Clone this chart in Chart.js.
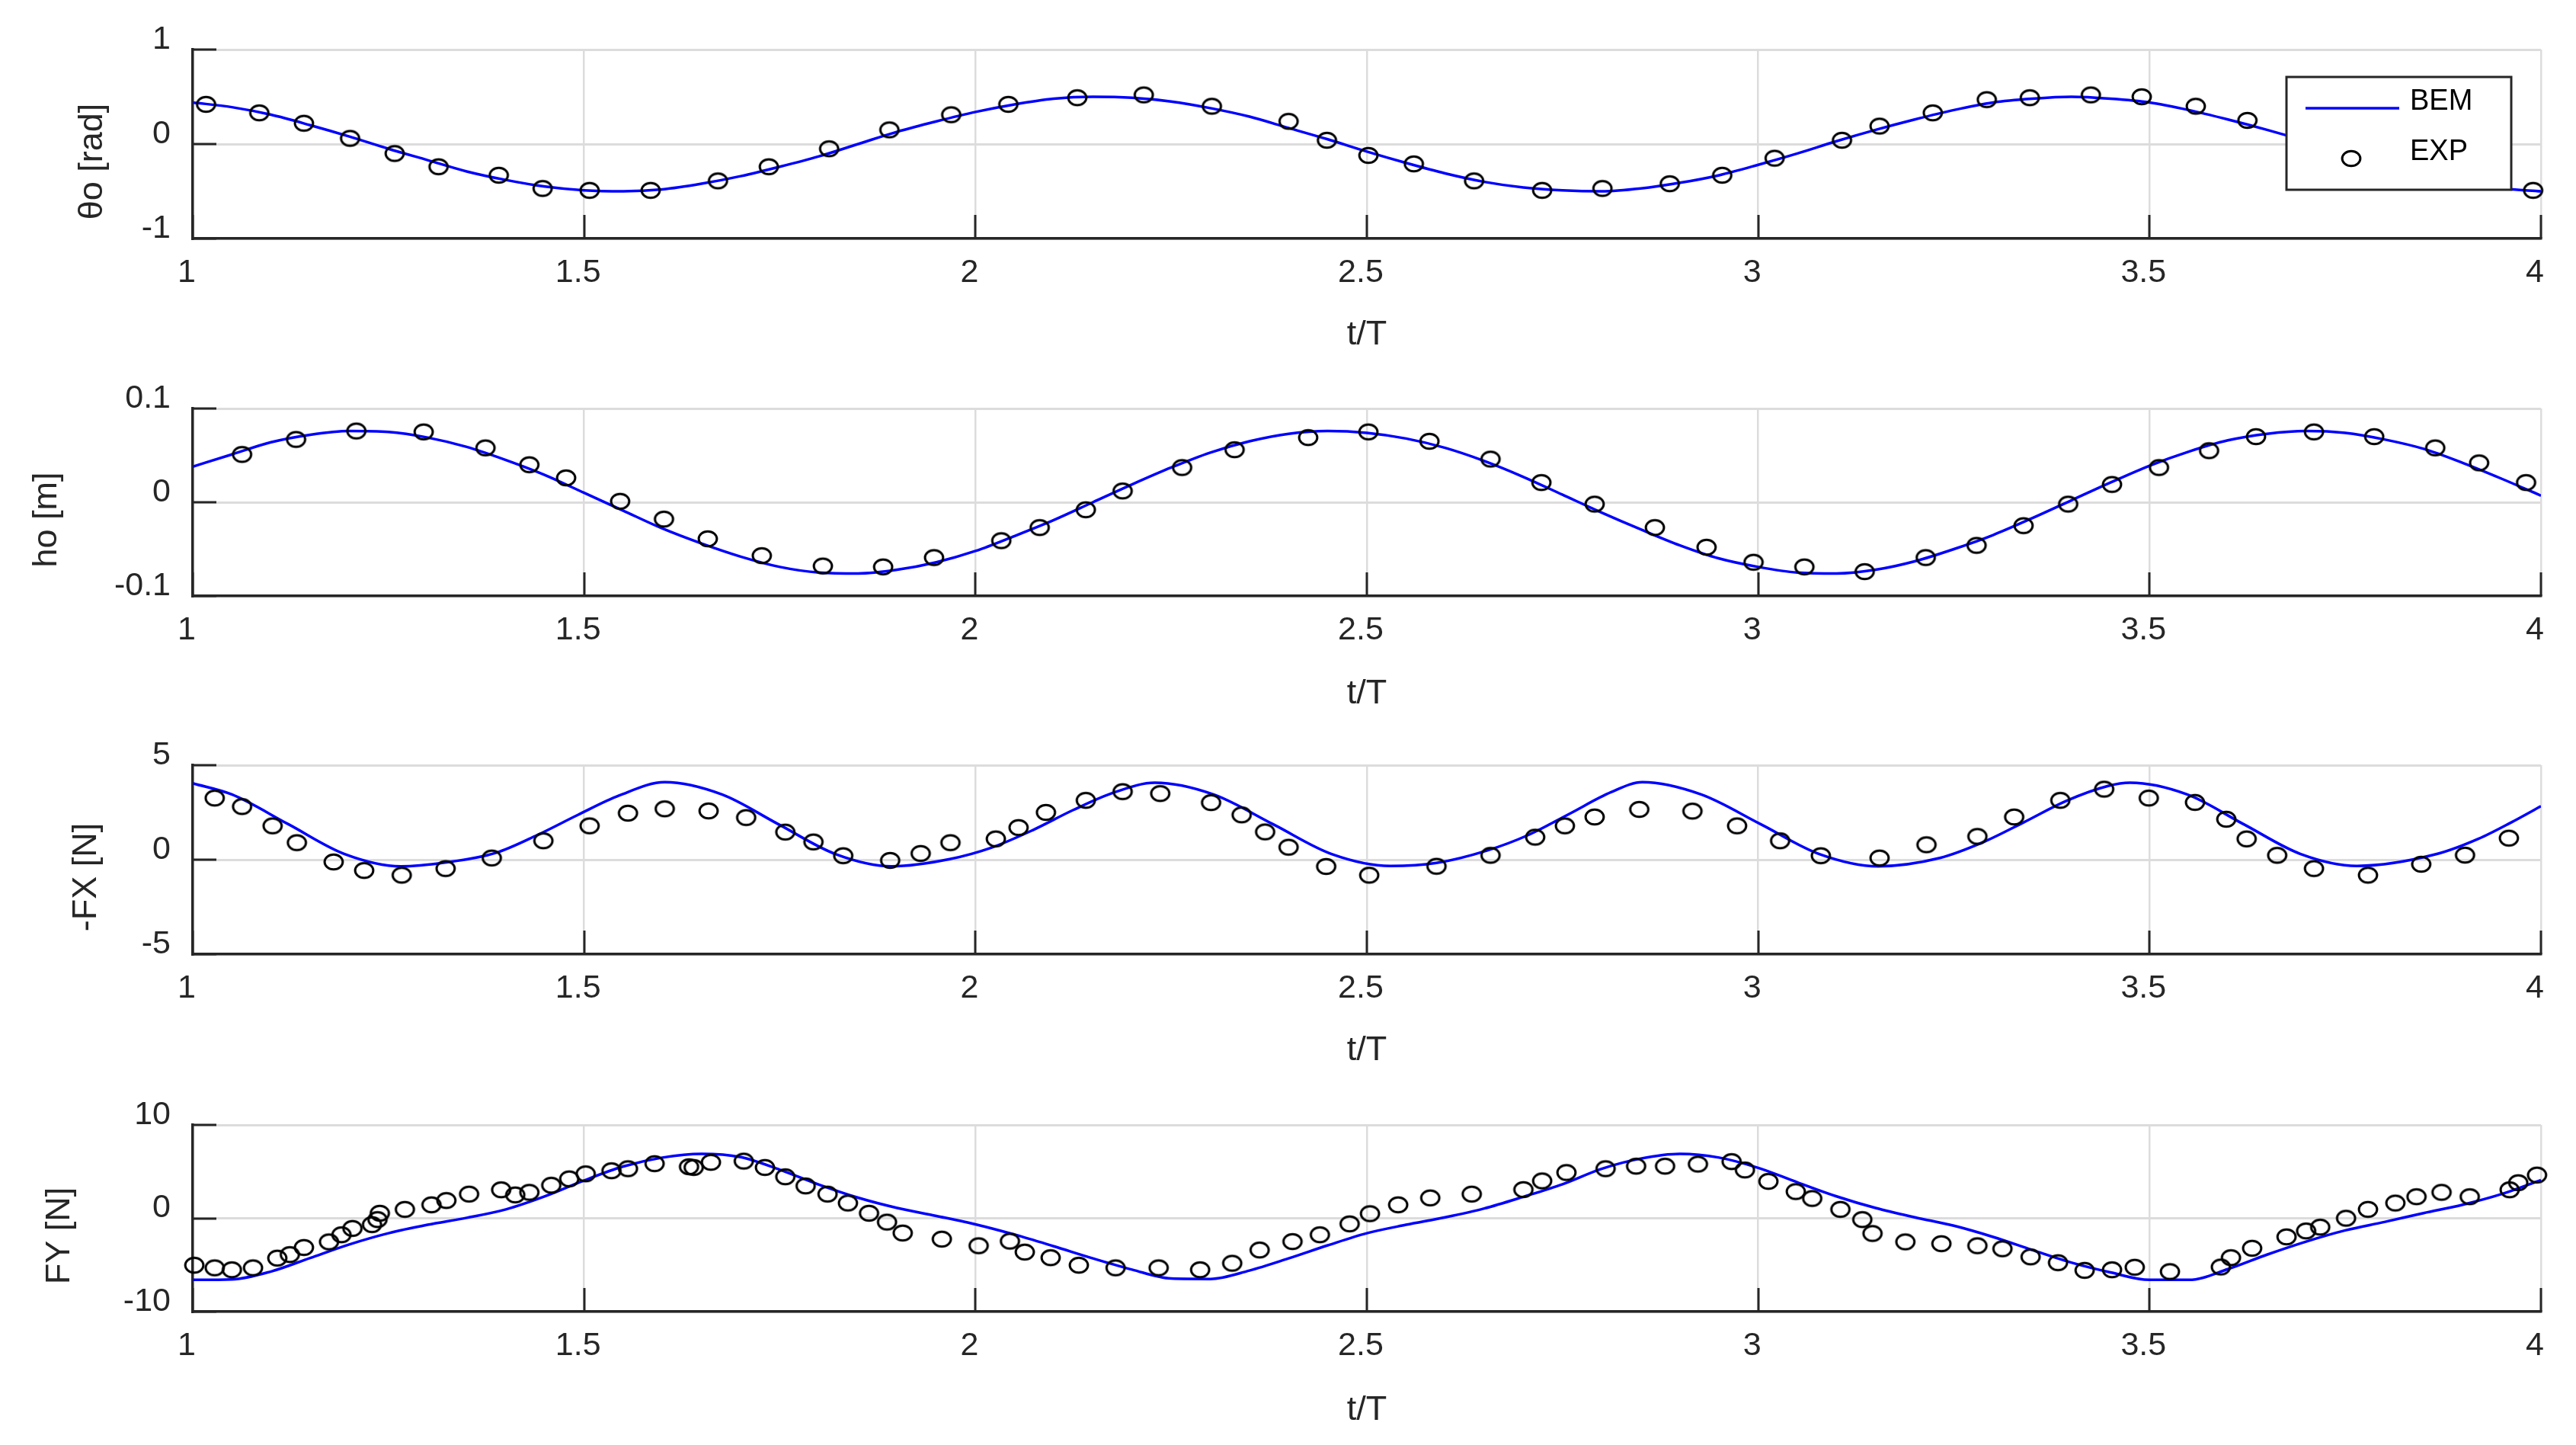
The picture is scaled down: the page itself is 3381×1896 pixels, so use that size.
<!DOCTYPE html>
<html>
<head>
<meta charset="utf-8">
<title>BEM vs EXP</title>
<script src="https://cdn.jsdelivr.net/npm/chart.js@4.4.1/dist/chart.umd.min.js"></script>
<style>
  html, body { margin: 0; padding: 0; background: #ffffff; }
  canvas { position: absolute; left: 0; }
</style>
</head>
<body>
<canvas id="thetaChart" width="3381" height="470" style="top:0px"></canvas>
<canvas id="hoChart" width="3381" height="470" style="top:471px"></canvas>
<canvas id="fxChart" width="3381" height="470" style="top:939px"></canvas>
<canvas id="fyChart" width="3381" height="470" style="top:1411px"></canvas>
<script>
// ---- data ----
const xTitle = 't/T';
const xTicks = [1, 1.5, 2, 2.5, 3, 3.5, 4];

// BEM curves sampled every 0.05 t/T
const bemT = [
  1.00, 1.05, 1.10, 1.15, 1.20, 1.25, 1.30, 1.35, 1.40, 1.45,
  1.50, 1.55, 1.60, 1.65, 1.70, 1.75, 1.80, 1.85, 1.90, 1.95,
  2.00, 2.05, 2.10, 2.15, 2.20, 2.25, 2.30, 2.35, 2.40, 2.45,
  2.50, 2.55, 2.60, 2.65, 2.70, 2.75, 2.80, 2.85, 2.90, 2.95,
  3.00, 3.05, 3.10, 3.15, 3.20, 3.25, 3.30, 3.35, 3.40, 3.45,
  3.50, 3.55, 3.60, 3.65, 3.70, 3.75, 3.80, 3.85, 3.90, 3.95,
  4.00
];
const thetaBem = [
  0.44, 0.39, 0.31, 0.20, 0.08, -0.05, -0.17, -0.29, -0.38, -0.45,
  -0.49, -0.50, -0.48, -0.42, -0.34, -0.24, -0.13, 0.00, 0.13, 0.24,
  0.34, 0.42, 0.48, 0.50, 0.49, 0.45, 0.38, 0.29, 0.17, 0.05,
  -0.08, -0.20, -0.31, -0.40, -0.46, -0.49, -0.50, -0.47, -0.41, -0.33,
  -0.22, -0.10, 0.03, 0.15, 0.26, 0.36, 0.44, 0.48, 0.50, 0.48,
  0.44, 0.36, 0.26, 0.15, 0.03, -0.10, -0.22, -0.33, -0.41, -0.47,
  -0.50
];
const hoBem = [
  0.038, 0.051, 0.064, 0.072, 0.076, 0.075, 0.069, 0.059, 0.045, 0.029,
  0.010, -0.009, -0.028, -0.044, -0.058, -0.069, -0.075, -0.076, -0.072, -0.064,
  -0.052, -0.036, -0.019, 0.000, 0.019, 0.037, 0.053, 0.065, 0.073, 0.076,
  0.074, 0.068, 0.058, 0.044, 0.027, 0.008, -0.011, -0.029, -0.046, -0.060,
  -0.069, -0.075, -0.076, -0.072, -0.063, -0.050, -0.035, -0.017, 0.002, 0.021,
  0.039, 0.054, 0.066, 0.073, 0.076, 0.074, 0.067, 0.057, 0.042, 0.025,
  0.007
];
const fyBem = [
  -6.6, -6.55, -5.7, -4.25, -2.8, -1.6, -0.7, 0.05, 0.95, 2.35,
  4.05, 5.55, 6.5, 6.9, 6.55, 5.2, 3.6, 2.2, 1.1, 0.25,
  -0.65, -1.75, -3.0, -4.3, -5.5, -6.45, -6.5, -5.6, -4.3, -2.9,
  -1.6, -0.7, 0.1, 1.05, 2.3, 3.65, 5.3, 6.4, 6.9, 6.5,
  5.4, 3.85, 2.35, 1.1, 0.1, -0.8, -2.0, -3.4, -4.75, -5.8,
  -6.6, -6.6, -5.45, -3.9, -2.5, -1.3, -0.4, 0.55, 1.45, 2.6,
  4.1
];

// -FX BEM curve (faster oscillation, read at extremes and flanks)
const fxBemT = [
  1.000, 1.050, 1.122, 1.194, 1.266, 1.322, 1.387, 1.440, 1.492, 1.545,
  1.603, 1.676, 1.748, 1.821, 1.893, 1.967, 2.020, 2.073, 2.125, 2.178,
  2.229, 2.304, 2.380, 2.455, 2.530, 2.589, 2.654, 2.706, 2.759, 2.812,
  2.852, 2.927, 3.003, 3.078, 3.153, 3.232, 3.286, 3.339, 3.393, 3.447,
  3.475, 3.548, 3.620, 3.693, 3.765, 3.867, 3.920, 3.962, 4.000
];
const fxBem = [
  4.04, 3.45, 1.88, 0.30, -0.35, -0.15, 0.36, 1.30, 2.37, 3.40,
  4.10, 3.45, 1.88, 0.30, -0.35, 0.03, 0.63, 1.56, 2.63, 3.57,
  4.07, 3.45, 1.88, 0.30, -0.33, -0.17, 0.49, 1.30, 2.43, 3.57,
  4.10, 3.45, 1.88, 0.30, -0.35, 0.09, 0.90, 1.97, 3.10, 3.90,
  4.07, 3.45, 1.88, 0.30, -0.33, 0.30, 1.10, 1.97, 2.83
];

// experimental points
const thetaExpT = [
  1.017, 1.085, 1.142, 1.201, 1.258, 1.314, 1.391, 1.447, 1.507, 1.585,
  1.671, 1.736, 1.813, 1.890, 1.969, 2.042, 2.130, 2.215, 2.302, 2.400,
  2.449, 2.502, 2.560, 2.637, 2.724, 2.801, 2.887, 2.954, 3.021, 3.107,
  3.155, 3.223, 3.292, 3.347, 3.425, 3.490, 3.559, 3.625, 3.990
];
const thetaExp = [
  0.42, 0.33, 0.22, 0.06, -0.10, -0.24, -0.33, -0.47, -0.49, -0.49,
  -0.39, -0.24, -0.05, 0.15, 0.31, 0.42, 0.49, 0.52, 0.40, 0.24,
  0.04, -0.12, -0.21, -0.39, -0.49, -0.47, -0.42, -0.33, -0.15, 0.04,
  0.19, 0.33, 0.47, 0.49, 0.52, 0.50, 0.40, 0.25, -0.49
];

const hoExpT = [
  1.063, 1.132, 1.209, 1.295, 1.374, 1.430, 1.477, 1.546, 1.602, 1.658,
  1.727, 1.805, 1.882, 1.947, 2.033, 2.082, 2.141, 2.188, 2.264, 2.331,
  2.425, 2.502, 2.580, 2.658, 2.723, 2.791, 2.868, 2.934, 2.994, 3.059,
  3.136, 3.214, 3.279, 3.339, 3.396, 3.452, 3.512, 3.576, 3.636, 3.710,
  3.787, 3.865, 3.921, 3.981
];
const hoExp = [
  0.051, 0.067, 0.076, 0.075, 0.058, 0.040, 0.026, 0.001, -0.018, -0.039,
  -0.057, -0.068, -0.069, -0.059, -0.041, -0.027, -0.008, 0.012, 0.037, 0.056,
  0.069, 0.075, 0.065, 0.046, 0.021, -0.002, -0.027, -0.048, -0.064, -0.069,
  -0.074, -0.059, -0.046, -0.025, -0.002, 0.019, 0.037, 0.055, 0.070, 0.075,
  0.070, 0.058, 0.042, 0.021
];

const fxExpT = [
  1.028, 1.063, 1.102, 1.133, 1.180, 1.219, 1.267, 1.323, 1.382, 1.448,
  1.507, 1.556, 1.603, 1.659, 1.707, 1.757, 1.793, 1.831, 1.891, 1.930,
  1.968, 2.026, 2.055, 2.090, 2.141, 2.188, 2.236, 2.301, 2.340, 2.370,
  2.400, 2.448, 2.503, 2.589, 2.658, 2.715, 2.753, 2.791, 2.848, 2.916,
  2.973, 3.028, 3.080, 3.155, 3.215, 3.280, 3.327, 3.386, 3.442, 3.499,
  3.558, 3.598, 3.624, 3.663, 3.710, 3.779, 3.847, 3.903, 3.959
];
const fxExp = [
  3.26, 2.81, 1.79, 0.90, -0.12, -0.57, -0.82, -0.47, 0.09, 1.00,
  1.79, 2.46, 2.69, 2.58, 2.23, 1.46, 0.94, 0.21, -0.04, 0.33,
  0.90, 1.10, 1.70, 2.50, 3.14, 3.60, 3.50, 3.02, 2.37, 1.47,
  0.66, -0.36, -0.82, -0.35, 0.23, 1.19, 1.79, 2.26, 2.66, 2.57,
  1.79, 1.00, 0.21, 0.09, 0.79, 1.23, 2.26, 3.14, 3.73, 3.26,
  3.03, 2.14, 1.10, 0.23, -0.47, -0.82, -0.24, 0.24, 1.14
];

const fyExpT = [
  1.002, 1.028, 1.050, 1.077, 1.108, 1.124, 1.142, 1.174, 1.190, 1.204,
  1.229, 1.236, 1.239, 1.271, 1.305, 1.324, 1.353, 1.394, 1.412, 1.430,
  1.458, 1.481, 1.502, 1.535, 1.556, 1.590, 1.634, 1.640, 1.662, 1.704,
  1.731, 1.757, 1.783, 1.811, 1.837, 1.864, 1.887, 1.907, 1.957, 2.004,
  2.044, 2.063, 2.096, 2.132, 2.179, 2.234, 2.287, 2.328, 2.363, 2.405,
  2.440, 2.478, 2.504, 2.540, 2.581, 2.634, 2.700, 2.724, 2.755, 2.805,
  2.844, 2.881, 2.923, 2.966, 2.983, 3.013, 3.048, 3.069, 3.105, 3.133,
  3.146, 3.188, 3.234, 3.280, 3.312, 3.348, 3.383, 3.417, 3.452, 3.481,
  3.526, 3.591, 3.604, 3.631, 3.675, 3.700, 3.718, 3.751, 3.779, 3.814,
  3.841, 3.873, 3.909, 3.960, 3.971, 3.995
];
const fyExp = [
  -5.03, -5.31, -5.52, -5.31, -4.27, -3.89, -3.13, -2.53, -1.77, -1.09,
  -0.68, -0.14, 0.54, 0.95, 1.44, 1.90, 2.59, 3.05, 2.50, 2.78,
  3.54, 4.22, 4.76, 5.09, 5.31, 5.85, 5.52, 5.44, 5.99, 6.12,
  5.44, 4.44, 3.46, 2.59, 1.63, 0.54, -0.41, -1.58, -2.23, -2.94,
  -2.45, -3.62, -4.22, -5.03, -5.31, -5.31, -5.52, -4.82, -3.40, -2.50,
  -1.77, -0.60, 0.49, 1.44, 2.18, 2.59, 3.07, 4.00, 4.90, 5.31,
  5.58, 5.58, 5.80, 6.07, 5.17, 3.95, 2.86, 2.12, 0.95, -0.14,
  -1.63, -2.53, -2.72, -2.94, -3.27, -4.14, -4.76, -5.58, -5.52, -5.25,
  -5.71, -5.22, -4.22, -3.21, -1.99, -1.36, -0.95, 0.00, 0.95, 1.63,
  2.31, 2.78, 2.31, 3.05, 3.81, 4.63
];

// ---- styling ----
const ink = '#262626';
const gridColor = '#dcdcdc';
const fontFamily = '"Liberation Sans", Arial, Helvetica, sans-serif';
Chart.defaults.font.family = fontFamily;
Chart.defaults.color = ink;

const pts = (xs, ys) => xs.map((x, i) => ({ x: x, y: ys[i] }));
const fmt = v => String(Math.round(v * 1000) / 1000);

// MATLAB-ish circle marker (figure is slightly stretched sideways)
const ring = document.createElement('canvas');
ring.width = 32;
ring.height = 28;
(() => {
    const c = ring.getContext('2d');
    c.strokeStyle = '#000000';
    c.lineWidth = 3;
    c.beginPath();
    c.ellipse(16, 14, 11.9, 9.7, 0, 0, Math.PI * 2);
    c.stroke();
})();

// inward ticks and the rotated y label
const axesExtras = {
    id: 'axesExtras',
    afterDatasetsDraw(chart, args, opts) {
        const { ctx, chartArea: a, scales: { x, y } } = chart;
        ctx.save();
        ctx.strokeStyle = ink;
        ctx.lineWidth = 3;
        ctx.beginPath();
        x.ticks.forEach(t => {
            const px = Math.round(x.getPixelForValue(t.value));
            ctx.moveTo(px, a.bottom);
            ctx.lineTo(px, a.bottom - 31);
        });
        y.ticks.forEach(t => {
            const py = Math.round(y.getPixelForValue(t.value));
            ctx.moveTo(a.left, py);
            ctx.lineTo(a.left + 31, py);
        });
        ctx.stroke();

        ctx.fillStyle = ink;
        ctx.font = '45px ' + fontFamily;
        ctx.textAlign = 'center';
        ctx.textBaseline = 'middle';
        ctx.translate(opts.labelX, (a.top + a.bottom) / 2 + 23);
        ctx.rotate(-Math.PI / 2);
        ctx.fillText(opts.label, 0, 0);
        ctx.restore();
    }
};

// boxed legend inside the top-right corner (first panel only)
const boxLegend = {
    id: 'boxLegend',
    afterDraw(chart, args, opts) {
        if (!opts.show) return;
        const { ctx, chartArea: a } = chart;
        const [bem, exp] = chart.data.datasets;
        const w = 295, h = 148;
        const left = a.right - 39 - w, top = a.top + 36;
        ctx.save();
        ctx.fillStyle = '#ffffff';
        ctx.fillRect(left, top, w, h);
        ctx.strokeStyle = ink;
        ctx.lineWidth = 3;
        ctx.strokeRect(left, top, w, h);

        ctx.strokeStyle = bem.borderColor;
        ctx.lineWidth = bem.borderWidth;
        ctx.beginPath();
        ctx.moveTo(left + 25, top + 41);
        ctx.lineTo(left + 148, top + 41);
        ctx.stroke();

        ctx.drawImage(ring, left + 85 - ring.width / 2, top + 107 - ring.height / 2);

        ctx.fillStyle = '#000000';
        ctx.font = '38px ' + fontFamily;
        ctx.textBaseline = 'alphabetic';
        ctx.textAlign = 'left';
        ctx.fillText(bem.label, left + 162, top + 43);
        ctx.fillText(exp.label, left + 162, top + 109);
        ctx.restore();
    }
};

function makePanel(id, o) {
    const canvasH = 470, padTop = 65;
    return new Chart(document.getElementById(id), {
        type: 'scatter',
        data: {
            datasets: [
                {
                    label: 'BEM',
                    data: pts(o.lineT, o.lineY),
                    showLine: true,
                    borderColor: '#0000ff',
                    borderWidth: 3.5,
                    pointRadius: 0,
                    cubicInterpolationMode: 'monotone',
                    order: 2
                },
                {
                    label: 'EXP',
                    data: pts(o.expT, o.expY),
                    showLine: false,
                    pointStyle: ring,
                    pointRadius: 11.5,
                    pointBorderWidth: 3,
                    pointBorderColor: '#000000',
                    pointBackgroundColor: 'rgba(0,0,0,0)',
                    clip: false,
                    order: 1
                }
            ]
        },
        options: {
            responsive: false,
            animation: false,
            devicePixelRatio: 1,
            events: [],
            layout: { padding: { top: padTop, right: 46, bottom: 0, left: 0 } },
            plugins: {
                legend: { display: false },
                tooltip: { enabled: false },
                axesExtras: { label: o.label, labelX: o.labelX },
                boxLegend: { show: !!o.legend }
            },
            scales: {
                x: {
                    type: 'linear',
                    min: xTicks[0],
                    max: xTicks[xTicks.length - 1],
                    afterFit: s => { s.height = canvasH - padTop - o.plotH; },
                    afterBuildTicks: s => { s.ticks = xTicks.map(v => ({ value: v })); },
                    ticks: {
                        font: { size: 43 },
                        color: ink,
                        padding: 19,
                        labelOffset: -8,
                        maxRotation: 0,
                        autoSkip: false,
                        callback: fmt
                    },
                    grid: { color: gridColor, lineWidth: 2.5, drawTicks: false },
                    border: { color: ink, width: 3.5 },
                    title: {
                        display: true,
                        text: xTitle,
                        font: { size: 45 },
                        color: ink,
                        padding: { top: 0, bottom: 3 }
                    }
                },
                y: {
                    type: 'linear',
                    min: o.yTicks[0],
                    max: o.yTicks[o.yTicks.length - 1],
                    afterFit: s => { s.width = 253; },
                    afterBuildTicks: s => { s.ticks = o.yTicks.map(v => ({ value: v })); },
                    ticks: {
                        font: { size: 43 },
                        color: ink,
                        padding: 29,
                        labelOffset: -13,
                        callback: fmt
                    },
                    grid: { color: gridColor, lineWidth: 3, drawTicks: false },
                    border: { color: ink, width: 3.5 }
                }
            }
        },
        plugins: [axesExtras, boxLegend]
    });
}

makePanel('thetaChart', {
    lineT: bemT, lineY: thetaBem, expT: thetaExpT, expY: thetaExp,
    yTicks: [-1, 0, 1], label: 'θo [rad]', labelX: 122, plotH: 248, legend: true
});
makePanel('hoChart', {
    lineT: bemT, lineY: hoBem, expT: hoExpT, expY: hoExp,
    yTicks: [-0.1, 0, 0.1], label: 'ho [m]', labelX: 62, plotH: 246
});
makePanel('fxChart', {
    lineT: fxBemT, lineY: fxBem, expT: fxExpT, expY: fxExp,
    yTicks: [-5, 0, 5], label: '-FX [N]', labelX: 114, plotH: 248
});
makePanel('fyChart', {
    lineT: bemT, lineY: fyBem, expT: fyExpT, expY: fyExp,
    yTicks: [-10, 0, 10], label: 'FY [N]', labelX: 79, plotH: 245
});
</script>
</body>
</html>
